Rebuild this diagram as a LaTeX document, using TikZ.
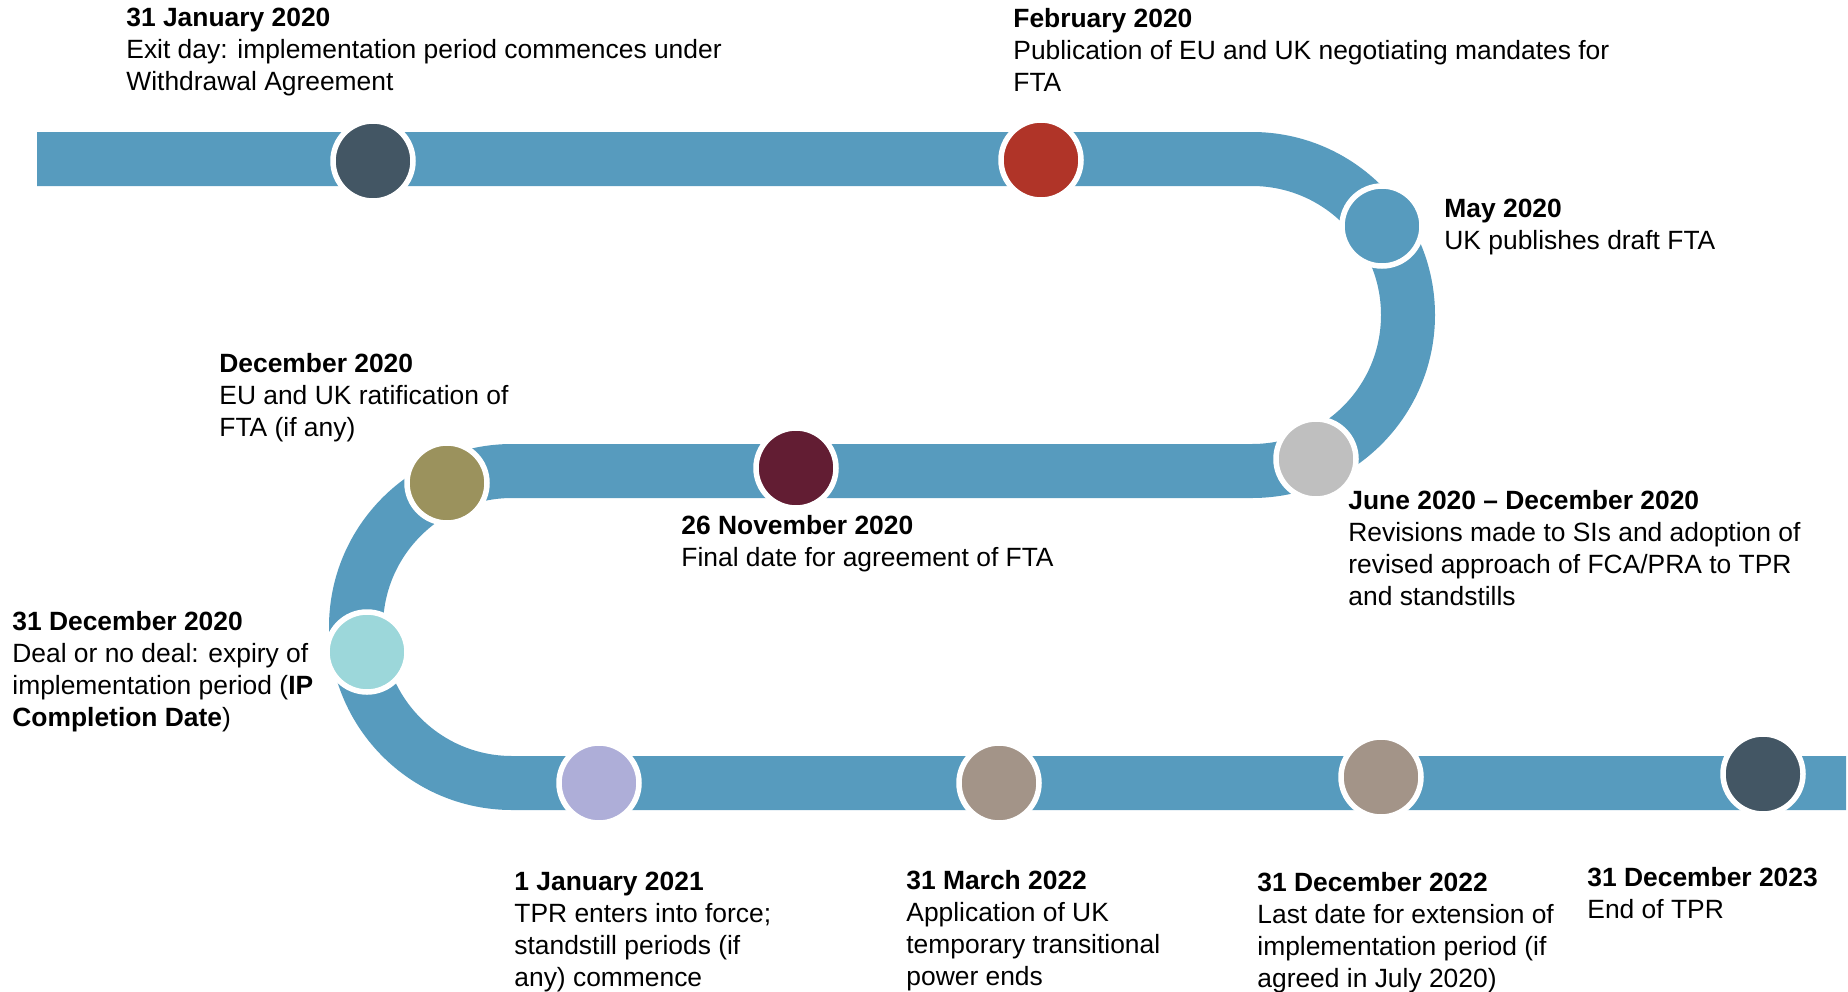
\documentclass[tikz,border=0pt]{standalone}
\usepackage{fontspec}
\setmainfont{Liberation Sans}
\usepackage{xcolor}
\usepackage{tikz}

\definecolor{bandblue}{RGB}{87,155,190}
\definecolor{slate}{RGB}{67,86,100}
\definecolor{brick}{RGB}{176,52,40}
\definecolor{silver}{RGB}{191,191,191}
\definecolor{maroon}{RGB}{98,29,51}
\definecolor{olive}{RGB}{155,146,93}
\definecolor{aqua}{RGB}{156,215,218}
\definecolor{lavender}{RGB}{174,174,216}
\definecolor{taupe}{RGB}{163,148,136}

\begin{document}
\begin{tikzpicture}[
    x=0.5pt, y=-0.5pt,
    band/.style={draw=bandblue, line width=27pt},
    stop/.style={circle, draw=white, line width=2.75pt, minimum size=40pt, inner sep=0pt},
    note/.style={anchor=north west, align=left, inner sep=0pt, font=\fontsize{13.2pt}{16pt}\selectfont}
]
    \useasboundingbox (0,0) rectangle (1848,991);

    % track
    \coordinate (start) at (37,159);
    \coordinate (bendR) at (1252,159);
    \coordinate (bendL) at (512,471);
    \coordinate (finish) at (1846,783);
    \draw [band] (start) -- (bendR) arc[start angle=90, end angle=-90, radius=78pt]
        -- (bendL) arc[start angle=90, end angle=270, radius=78pt] -- (finish);

    % milestones
    \node [stop, fill=slate] (jan20) at (373,161) {};
    \node [stop, fill=brick] (feb20) at (1041,160) {};
    \node [stop, fill=bandblue] (may20) at (1382,226) {};
    \node [stop, fill=silver] (jun20) at (1316,459) {};
    \node [stop, fill=maroon] (nov20) at (796,468) {};
    \node [stop, fill=olive] (dec20) at (447,483) {};
    \node [stop, fill=aqua] (ipcd) at (367,652) {};
    \node [stop, fill=lavender] (jan21) at (599,783) {};
    \node [stop, fill=taupe] (mar22) at (999,783) {};
    \node [stop, fill=taupe] (dec22) at (1381,777) {};
    \node [stop, fill=slate] (dec23) at (1763,774) {};

    % labels
    \node [note] (jan20-txt) at (126,8) {\textbf{31 January 2020}\\Exit day: implementation period commences under\\Withdrawal Agreement};
    \node [note] (feb20-txt) at (1013,8) {\textbf{February 2020}\\Publication of EU and UK negotiating mandates for\\FTA};
    \node [note] (may20-txt) at (1444,199) {\textbf{May 2020}\\UK publishes draft FTA};
    \node [note] (dec20-txt) at (219,353) {\textbf{December 2020}\\EU and UK ratification of\\FTA (if any)};
    \node [note] (jun20-txt) at (1348,490) {\textbf{June 2020 \textendash{} December 2020}\\Revisions made to SIs and adoption of\\revised approach of FCA/PRA to TPR\\and standstills};
    \node [note] (nov20-txt) at (681,515) {\textbf{26 November 2020}\\Final date for agreement of FTA};
    \node [note] (ipcd-txt) at (12,611) {\textbf{31 December 2020}\\Deal or no deal: expiry of\\implementation period (\textbf{IP}\\\textbf{Completion Date})};
    \node [note] (jan21-txt) at (514,872) {\textbf{1 January 2021}\\TPR enters into force;\\standstill periods (if\\any) commence};
    \node [note] (mar22-txt) at (906,870) {\textbf{31 March 2022}\\Application of UK\\temporary transitional\\power ends};
    \node [note] (dec22-txt) at (1257,872) {\textbf{31 December 2022}\\Last date for extension of\\implementation period (if\\agreed in July 2020)};
    \node [note] (dec23-txt) at (1587,867) {\textbf{31 December 2023}\\End of TPR};
\end{tikzpicture}
\end{document}
